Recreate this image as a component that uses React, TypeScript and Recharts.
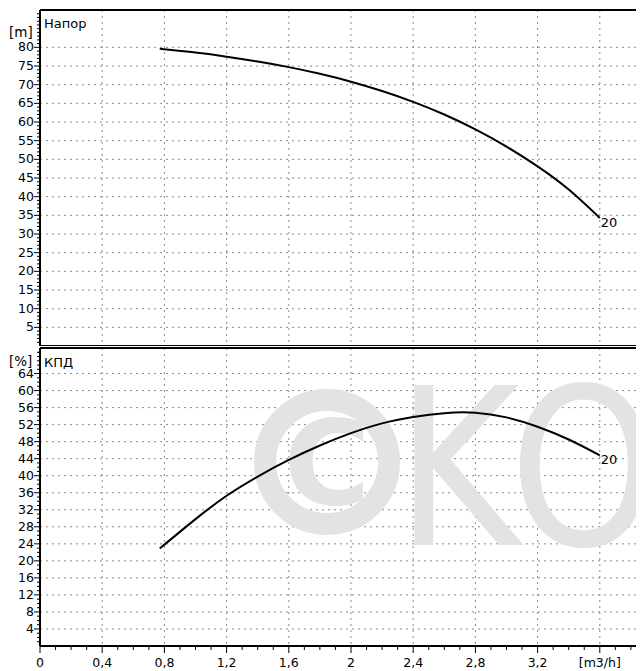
import React from 'react';
import { LineChart, Line, XAxis, YAxis, CartesianGrid, ReferenceLine } from 'recharts';

// flow [m3/h] and pump curves
const flow = [0.77, 1.0, 1.2, 1.4, 1.6, 1.8, 2.0, 2.2, 2.4, 2.6, 2.8, 3.0, 3.2, 3.4, 3.6];
const head = [79.6, 78.6, 77.5, 76.2, 74.7, 72.9, 70.8, 68.3, 65.4, 62.0, 58.0, 53.4, 48.1, 41.9, 34.3];
const efficiency = [22.9, 29.8, 35.3, 39.8, 43.7, 47.1, 50.0, 52.3, 53.8, 54.7, 54.8, 53.7, 51.5, 48.5, 44.8];

const headLabels = [5, 10, 15, 20, 25, 30, 35, 40, 45, 50, 55, 60, 65, 70, 75, 80];
const effLabels = [4, 8, 12, 16, 20, 24, 28, 32, 36, 40, 44, 48, 52, 56, 60, 64];
const flowLabels = [0, 0.4, 0.8, 1.2, 1.6, 2, 2.4, 2.8, 3.2, 3.6];
const curveName = '20';

const data = flow.map((q, i) => ({ q, head: head[i], eff: efficiency[i] }));

const FONT = '"DejaVu Sans", Verdana, sans-serif';
const headMinor = Array.from({ length: 89 }, (_, i) => i + 1);
const effMinor = Array.from({ length: 69 }, (_, i) => i + 1);
const flowMinor = Array.from({ length: 40 }, (_, i) => i / 10);

const isMajor = (v: number, list: number[]) => list.some((m) => Math.abs(m - v) < 1e-6);

const makeYTick = (labels: number[]) => (props: any) => {
  const { x, y, payload } = props;
  const major = isMajor(payload.value, labels);
  return (
    <g>
      <line x1={x} x2={x - (major ? 6 : 3)} y1={y} y2={y} stroke="#000" strokeWidth={1} />
      {major && (
        <text x={x - 6} y={y + 4} textAnchor="end" fontSize={12.5} fontFamily={FONT} fill="#000">
          {payload.value}
        </text>
      )}
    </g>
  );
};

const XTick = (props: any) => {
  const { x, y, payload } = props;
  const major = isMajor(payload.value, flowLabels);
  const last = Math.abs(payload.value - 3.6) < 1e-6;
  return (
    <g>
      <line x1={x} x2={x} y1={y} y2={y + (major ? 7 : 4)} stroke="#000" strokeWidth={1} />
      {major && (
        <text x={x} y={y + 21} textAnchor="middle" fontSize={12.5} fontFamily={FONT} fill="#000">
          {last ? '[m3/h]' : String(payload.value).replace('.', ',')}
        </text>
      )}
    </g>
  );
};

const endLabel = (props: any) => {
  const { x, y, index } = props;
  if (index !== flow.length - 1) return null;
  return (
    <text x={x + 1} y={y + 9} fontSize={13} fontFamily={FONT} fill="#000">
      {curveName}
    </text>
  );
};

const gridStyle = { stroke: '#8a8a8a', strokeDasharray: '2 4' };
const WM = '#e3e3e3';

export default function App() {
  return (
    <div style={{ width: 636, overflow: 'hidden' }}>
      <LineChart width={660} height={338} data={data} margin={{ top: 2, right: 6, bottom: 0, left: 0 }}>
        <CartesianGrid
          {...gridStyle}
          horizontalValues={headLabels}
          verticalValues={flowLabels.slice(1)}
        />
        <XAxis type="number" dataKey="q" domain={[0, 4]} hide />
        <YAxis
          type="number"
          domain={[0, 90]}
          ticks={headMinor}
          interval={0}
          width={32}
          tickSize={0}
          tickMargin={0}
          tick={makeYTick(headLabels)}
          axisLine={{ stroke: '#000', strokeWidth: 2 }}
          tickLine={false}
        />
        <ReferenceLine y={90} stroke="#000" strokeWidth={2} />
        <ReferenceLine y={0} stroke="#000" strokeWidth={2} />
        <Line
          dataKey="head"
          type="natural"
          stroke="#000"
          strokeWidth={2}
          dot={false}
          isAnimationActive={false}
          label={endLabel}
        />
        <text x={1} y={29} fontSize={13.5} fontFamily={FONT} fill="#000">[m]</text>
        <text x={36} y={20} fontSize={13} fontFamily={FONT} fill="#000">Напор</text>
      </LineChart>
      <LineChart width={660} height={325} data={data} margin={{ top: 2, right: 6, bottom: 0, left: 0 }}>
        {/* watermark */}
        <g>
          <circle cx={319} cy={116} r={62} fill="none" stroke={WM} strokeWidth={22} />
          <text x={319} y={158} textAnchor="middle" fontSize={118} fontWeight="bold" fontFamily={FONT} fill={WM}>
            C
          </text>
          <text
            x={388}
            y={199}
            fontSize={220}
            fontFamily={FONT}
            fill={WM}
            textLength={262}
            lengthAdjust="spacingAndGlyphs"
          >
            KO
          </text>
        </g>
        <CartesianGrid
          {...gridStyle}
          horizontalValues={effLabels}
          verticalValues={flowLabels.slice(1)}
        />
        <XAxis
          type="number"
          dataKey="q"
          domain={[0, 4]}
          ticks={flowMinor}
          interval={0}
          height={25}
          tickSize={0}
          tickMargin={0}
          tick={XTick}
          axisLine={{ stroke: '#000', strokeWidth: 2 }}
          tickLine={false}
        />
        <YAxis
          type="number"
          domain={[0, 70]}
          ticks={effMinor}
          interval={0}
          width={32}
          tickSize={0}
          tickMargin={0}
          tick={makeYTick(effLabels)}
          axisLine={{ stroke: '#000', strokeWidth: 2 }}
          tickLine={false}
        />
        <ReferenceLine y={70} stroke="#000" strokeWidth={2} />
        <Line
          dataKey="eff"
          type="natural"
          stroke="#000"
          strokeWidth={2}
          dot={false}
          isAnimationActive={false}
          label={endLabel}
        />
        <text x={1} y={20} fontSize={13.5} fontFamily={FONT} fill="#000">[%]</text>
        <text x={36} y={21} fontSize={13} fontFamily={FONT} fill="#000">КПД</text>
      </LineChart>
    </div>
  );
}
